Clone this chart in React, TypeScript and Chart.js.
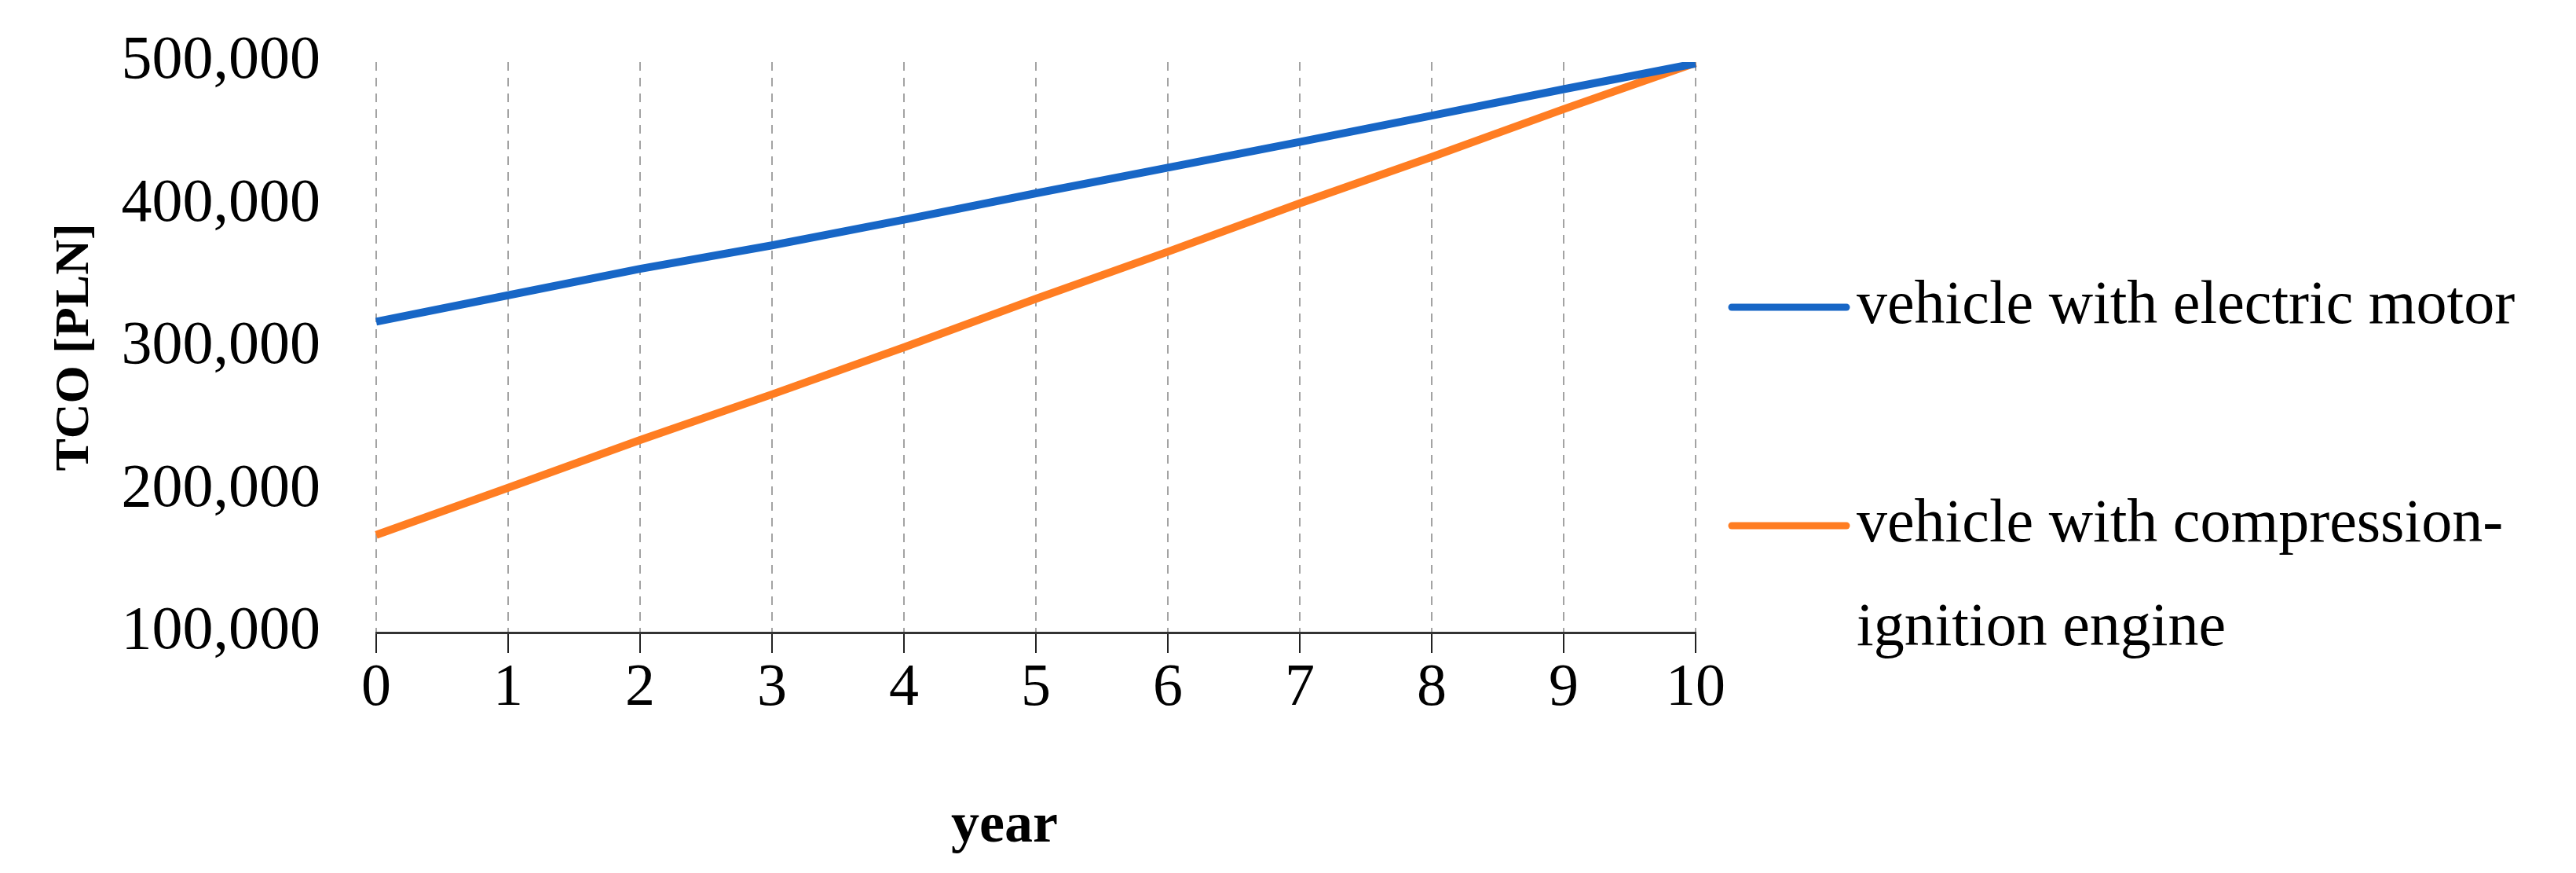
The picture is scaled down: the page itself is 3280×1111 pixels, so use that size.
import React, { useEffect, useRef } from "react";
import { Chart, registerables } from "chart.js";

Chart.register(...registerables);

const years = ["0", "1", "2", "3", "4", "5", "6", "7", "8", "9", "10"];
const electricTCO = [318000, 336500, 355000, 371500, 389500, 408000, 426000, 444000, 462500, 481000, 499000];
const dieselTCO = [168500, 201500, 235000, 267000, 300000, 334000, 367000, 401000, 433500, 467000, 499500];
const seriesLabels = [["vehicle with electric motor"], ["vehicle with compression-", "ignition engine"]];
const seriesColors = ["#1766c6", "#ff7d22"];
const yTicks = [100000, 200000, 300000, 400000, 500000];
const xTitle = "year";

const FONT = "'Liberation Serif', 'Times New Roman', serif";

const legendPlugin = {
  id: "sideLegend",
  afterDraw(chart: any, _args: any, opts: any) {
    const ctx = chart.ctx;
    ctx.save();
    ctx.font = `${opts.fontSize}px ${FONT}`;
    ctx.textBaseline = "middle";
    ctx.textAlign = "left";
    chart.data.datasets.forEach((ds: any, i: number) => {
      const y = opts.itemY[i];
      ctx.strokeStyle = ds.borderColor;
      ctx.lineWidth = opts.lineWidth;
      ctx.lineCap = "round";
      ctx.beginPath();
      ctx.moveTo(opts.lineX1, y);
      ctx.lineTo(opts.lineX2, y);
      ctx.stroke();
      ctx.fillStyle = "#000";
      const lines: string[] = ds.legendLines;
      lines.forEach((t, j) => ctx.fillText(t, opts.textX, y + j * opts.lineSpacing));
    });
    // x axis title
    const area = chart.chartArea;
    ctx.font = `bold ${opts.xTitleSize}px ${FONT}`;
    ctx.textAlign = "center";
    ctx.fillText(xTitle, (area.left + area.right) / 2 + opts.xTitleDx, opts.xTitleY);
    ctx.restore();
  },
};

export default function App() {
  const ref = useRef<HTMLCanvasElement | null>(null);
  useEffect(() => {
    if (!ref.current) return;
    const chart = new Chart(ref.current, {
      type: "line",
      data: {
        labels: years,
        datasets: [
          {
            label: seriesLabels[0].join(" "),
            legendLines: seriesLabels[0],
            data: electricTCO,
            borderColor: seriesColors[0],
            backgroundColor: seriesColors[0],
            borderWidth: 10,
            pointRadius: 0,
            tension: 0,
          } as any,
          {
            label: seriesLabels[1].join(" "),
            legendLines: seriesLabels[1],
            data: dieselTCO,
            borderColor: seriesColors[1],
            backgroundColor: seriesColors[1],
            borderWidth: 10,
            pointRadius: 0,
            tension: 0,
          } as any,
        ],
      },
      options: {
        animation: false,
        responsive: true,
        maintainAspectRatio: false,
        layout: { padding: { top: 71, right: 1113, left: 0, bottom: 0 } },
        plugins: {
          legend: { display: false },
          tooltip: { enabled: false },
          sideLegend: {
            fontSize: 78,
            lineWidth: 9,
            lineX1: 2197,
            lineX2: 2343,
            textX: 2356,
            itemY: [383, 661],
            lineSpacing: 132,
            xTitleSize: 72,
            xTitleDx: -40,
            xTitleY: 1044,
          },
        } as any,
        scales: {
          x: {
            type: "category",
            offset: false,
            grid: {
              display: true,
              drawOnChartArea: true,
              color: "#a3a3a3",
              lineWidth: 2,
              drawTicks: true,
              tickLength: 26,
              tickColor: "#222",
              tickWidth: 2,
            },
            border: { display: true, color: "#333", width: 3, dash: [11, 9] },
            ticks: {
              color: "#000",
              font: { family: FONT, size: 76 },
              padding: 0,
              maxRotation: 0,
              autoSkip: false,
            },
            title: { display: false },
            afterFit: (s: any) => {
              s.height = 298;
            },
          },
          y: {
            type: "linear",
            min: 100000,
            max: 500000,
            grid: {
              display: true,
              drawOnChartArea: false,
              drawTicks: true,
              tickLength: 69,
              tickColor: "rgba(0,0,0,0)",
            },
            border: { display: false },
            afterBuildTicks: (s: any) => {
              s.ticks = yTicks.map((v) => ({ value: v }));
            },
            ticks: {
              color: "#000",
              font: { family: FONT, size: 78 },
              padding: 2,
              callback: (v: any) => Number(v).toLocaleString("en-US"),
            },
            title: {
              display: true,
              text: "TCO [PLN]",
              color: "#000",
              font: { family: FONT, size: 62, weight: "bold" },
              padding: { top: 51, bottom: 0 },
            },
            afterFit: (s: any) => {
              s.width = 471;
            },
          },
        },
      },
      plugins: [legendPlugin],
    });
    return () => chart.destroy();
  }, []);
  return (
    <div style={{ width: 3264, height: 1095, position: "relative" }}>
      <canvas ref={ref} />
    </div>
  );
}
